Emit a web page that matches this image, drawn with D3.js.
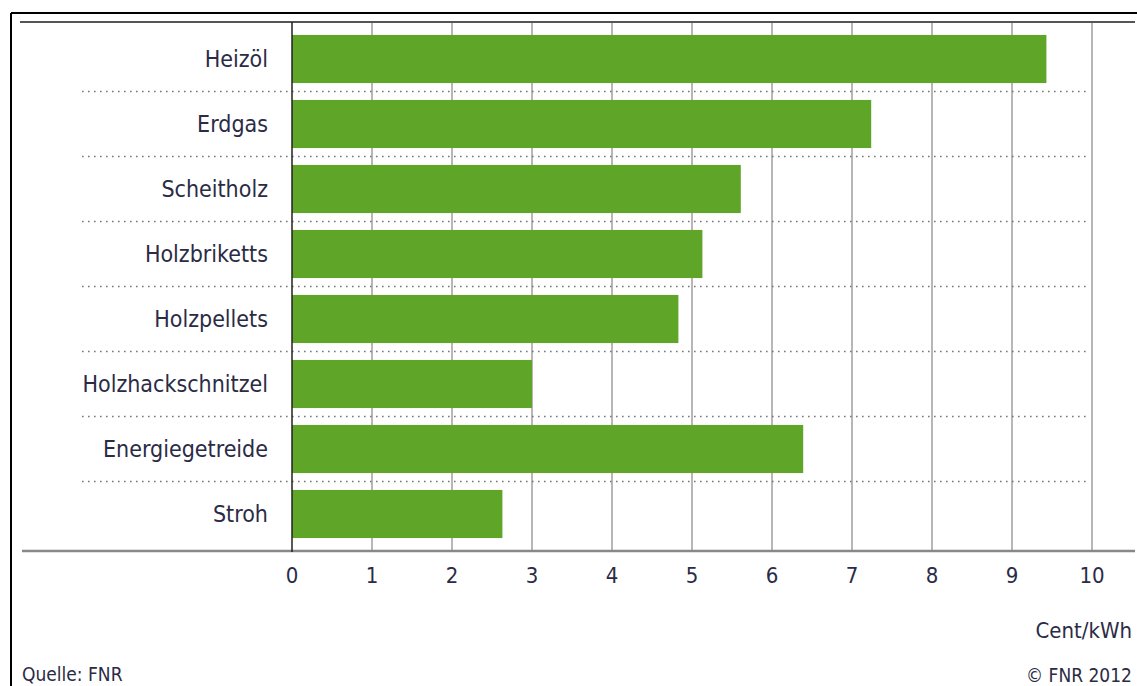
<!DOCTYPE html>
<html><head><meta charset="utf-8">
<script src="https://cdn.jsdelivr.net/npm/d3@7"></script>
<style>
body{margin:0;background:#fff;}
text{font-family:"Liberation Sans Narrow","DejaVu Sans Condensed","Roboto",sans-serif;fill:#2b2b45;}
</style></head>
<body>
<svg id="c" width="1137" height="686"></svg>
<script>
const categories = ["Heizöl","Erdgas","Scheitholz","Holzbriketts","Holzpellets","Holzhackschnitzel","Energiegetreide","Stroh"];
const values = [9.43, 7.24, 5.61, 5.13, 4.83, 3.0, 6.39, 2.63];
const ticks = [0,1,2,3,4,5,6,7,8,9,10];
const unitLabel = "Cent/kWh";
const sourceLabel = "Quelle: FNR";
const copyrightLabel = "© FNR 2012";

const svg = d3.select("#c");
const x = d3.scaleLinear().domain([0,10]).range([292,1092]);
const y = d3.scaleBand().domain(categories).range([26.5,546.5]).paddingInner(0.26).paddingOuter(0.13);
const step = y.step();

// frame
svg.append("line").attr("x1",11).attr("x2",1137).attr("y1",13).attr("y2",13).attr("stroke","#000").attr("stroke-width",2);
svg.append("line").attr("x1",11).attr("x2",11).attr("y1",13).attr("y2",686).attr("stroke","#000").attr("stroke-width",2);

// vertical gridlines
svg.append("g").selectAll("line").data(ticks.slice(1)).join("line")
  .attr("x1",d=>x(d)).attr("x2",d=>x(d)).attr("y1",22).attr("y2",552)
  .attr("stroke","#8a8580").attr("stroke-width",1.2);

// dotted separators
const seps = categories.slice(1).map((c)=>y(c) - y.step()*y.paddingInner()/2);
svg.append("g").selectAll("line").data(seps).join("line")
  .attr("x1",82).attr("x2",1086).attr("y1",d=>d).attr("y2",d=>d)
  .attr("stroke","#777").attr("stroke-width",1.6).attr("stroke-dasharray","1.6,4.4");

// bars
svg.append("g").selectAll("rect").data(categories).join("rect")
  .attr("x",x(0)).attr("y",d=>y(d)).attr("height",y.bandwidth())
  .attr("width",(d,i)=>x(values[i])-x(0)).attr("fill","#5fa628");

// top & bottom axis lines
svg.append("line").attr("x1",20).attr("x2",1135).attr("y1",22).attr("y2",22).attr("stroke","#555").attr("stroke-width",2);
svg.append("line").attr("x1",22).attr("x2",1135).attr("y1",551).attr("y2",551).attr("stroke","#888").attr("stroke-width",2.5);

// zero line
svg.append("line").attr("x1",x(0)).attr("x2",x(0)).attr("y1",22).attr("y2",552).attr("stroke","#222").attr("stroke-width",1.5);

// category labels
svg.append("g").selectAll("text").data(categories).join("text")
  .attr("x",268).attr("y",d=>y(d)+y.bandwidth()/2).attr("dy","0.35em")
  .attr("text-anchor","end").attr("font-size",23).text(d=>d);

// tick labels
svg.append("g").selectAll("text").data(ticks).join("text")
  .attr("x",d=>x(d)).attr("y",583).attr("text-anchor","middle").attr("font-size",22).text(d=>d);

svg.append("text").attr("x",1132).attr("y",638).attr("text-anchor","end").attr("font-size",22).text(unitLabel);
svg.append("text").attr("x",22).attr("y",681).attr("font-size",19).text(sourceLabel);
svg.append("text").attr("x",1132).attr("y",682).attr("text-anchor","end").attr("font-size",19).text(copyrightLabel);
</script>
</body></html>
